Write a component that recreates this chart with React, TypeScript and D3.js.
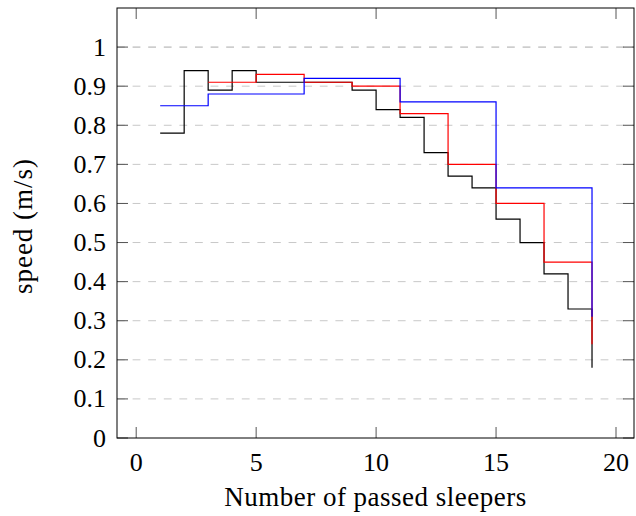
import React from "react";
import * as d3 from "d3";

const blackX = [1, 2, 3, 4, 5, 6, 7, 8, 9, 10, 11, 12, 13, 14, 15, 16, 17, 18, 19];
const blackY = [0.78, 0.94, 0.89, 0.94, 0.91, 0.91, 0.91, 0.91, 0.89, 0.84, 0.82, 0.73, 0.67, 0.64, 0.56, 0.5, 0.42, 0.33, 0.18];

const redX = [3, 5, 7, 9, 11, 13, 15, 17, 19];
const redY = [0.91, 0.93, 0.91, 0.9, 0.83, 0.7, 0.6, 0.45, 0.24];

const blueX = [1, 3, 7, 11, 15, 19];
const blueY = [0.85, 0.88, 0.92, 0.86, 0.64, 0.31];

const xTicks = [0, 5, 10, 15, 20];
const yTicks = [0, 0.1, 0.2, 0.3, 0.4, 0.5, 0.6, 0.7, 0.8, 0.9, 1];
const yTickLabels = ["0", "0.1", "0.2", "0.3", "0.4", "0.5", "0.6", "0.7", "0.8", "0.9", "1"];

const xLabel = "Number of passed sleepers";
const yLabel = "speed (m/s)";

const W = 636;
const H = 516;
const L = 117;
const R = 634;
const T = 8;
const B = 438;
const FONT = "Liberation Serif, DejaVu Serif, serif";

export default function App() {
  const x = d3.scaleLinear().domain([-0.8, 20.75]).range([L, R]);
  const y = d3.scaleLinear().domain([0, 1.1]).range([B, T]);

  const line = d3
    .line<[number, number]>()
    .x((d) => x(d[0]))
    .y((d) => y(d[1]))
    .curve(d3.curveStepAfter);

  const series = [
    { xs: blackX, ys: blackY, color: "#000000" },
    { xs: redX, ys: redY, color: "#ff0000" },
    { xs: blueX, ys: blueY, color: "#0000ff" },
  ];

  const tickLen = 11;
  const textStyle: React.CSSProperties = { fontFamily: FONT };

  return (
    <svg
      width={W}
      height={H}
      style={{ position: "absolute", left: 0, top: 0, background: "#fff", fontFamily: FONT }}
    >
      <rect x={0} y={0} width={W} height={H} fill="#fff" />
      {yTicks.map((t, i) =>
        t > 0 ? (
          <line
            key={"g" + i}
            x1={L}
            x2={R}
            y1={y(t)}
            y2={y(t)}
            stroke={t === 1 ? "#aaaaaa" : "#c8c8c8"}
            strokeWidth={1}
            strokeDasharray="7.8,7.8"
          />
        ) : null
      )}
      {series.map((s, i) => (
        <path
          key={"s" + i}
          d={line(s.xs.map((v, j) => [v, s.ys[j]] as [number, number])) || ""}
          fill="none"
          stroke={s.color}
          strokeWidth={1.2}
        />
      ))}
      {xTicks.map((t, i) => (
        <g key={"xt" + i}>
          <line x1={x(t)} x2={x(t)} y1={B} y2={B - tickLen} stroke="#555" strokeWidth={1} />
          <line x1={x(t)} x2={x(t)} y1={T} y2={T + tickLen} stroke="#555" strokeWidth={1} />
          <text x={x(t)} y={471} textAnchor="middle" fontSize={26} fill="#000" style={textStyle}>
            {String(t)}
          </text>
        </g>
      ))}
      {yTicks.map((t, i) => (
        <g key={"yt" + i}>
          <line x1={L} x2={L + tickLen} y1={y(t)} y2={y(t)} stroke="#555" strokeWidth={1} />
          <line x1={R} x2={R - tickLen} y1={y(t)} y2={y(t)} stroke="#555" strokeWidth={1} />
          <text x={106} y={y(t) + 8.5} textAnchor="end" fontSize={26} fill="#000" style={textStyle}>
            {yTickLabels[i]}
          </text>
        </g>
      ))}
      <rect x={L} y={T} width={R - L} height={B - T} fill="none" stroke="#000" strokeWidth={1} />
      <text
        x={(L + R) / 2}
        y={506}
        textAnchor="middle"
        fontSize={27}
        letterSpacing={0.5}
        fill="#000"
        style={textStyle}
      >
        {xLabel}
      </text>
      <text
        transform={`translate(32, ${(T + B) / 2 + 3}) rotate(-90)`}
        textAnchor="middle"
        fontSize={27}
        letterSpacing={1}
        fill="#000"
        style={textStyle}
      >
        {yLabel}
      </text>
    </svg>
  );
}
